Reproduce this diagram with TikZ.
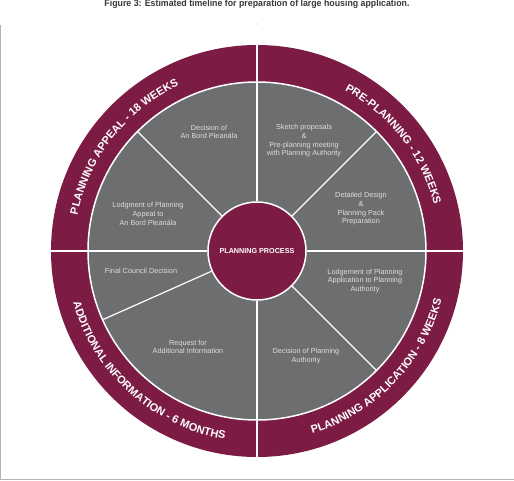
\documentclass[tikz,border=0pt]{standalone}
\usepackage{fontspec}
\setmainfont{Liberation Sans}
\usetikzlibrary{decorations.text}
\definecolor{wine}{HTML}{7C1C45}
\definecolor{slab}{HTML}{6C6E70}
\definecolor{pale}{HTML}{DEDEDE}
\definecolor{frame}{HTML}{B4B4B4}

\begin{document}
\begin{tikzpicture}[x=1pt,y=1pt,
  stagetext/.style={font=\fontsize{7.3}{8.7}\selectfont, text=pale, align=center},
  divider/.style={white, line width=1.2pt},
  ringtext/.style={decorate, decoration={text along path, text align=center,
    text={|\fontsize{11}{11}\selectfont\bfseries\color{white}|#1}}}]
\useasboundingbox (-257,-229) rectangle (257,251);
\draw[frame, line width=1pt] (-256.5,226) -- (-256.5,-228) -- (257,-228);
\fill[frame] (0,227) circle (0.7);
\node[anchor=base, text=black!78] (title) at (0,244)
  {\resizebox{305pt}{6.8pt}{\bfseries Figure 3: Estimated timeline for preparation of large housing application.}};
\fill[wine] (0,0) circle (206);
\filldraw[fill=slab, draw=white, line width=1.5pt] (0,0) circle (169);
\node[circle, fill=wine, draw=white, line width=1.5pt, minimum size=98pt, inner sep=0pt,
  font=\fontsize{7.2}{7.2}\selectfont\bfseries, text=white] (hub) at (0,0) {PLANNING PROCESS};
\draw[divider] (hub.north) -- (90:206);
\draw[divider] (hub.south) -- (-90:206);
\draw[divider] (hub.east) -- (0:206);
\draw[divider] (hub.west) -- (180:206);
\draw[divider] (hub.135) -- (135:169);
\draw[divider] (hub.45) -- (45:169);
\draw[divider] (hub.-45) -- (-45:169);
\draw[divider] (hub.204) -- (204:169);
\node[stagetext] (bordDecision) at (-48,119) {Decision of\\An Bord Plean\'ala};
\node[stagetext] (appealLodged) at (-109,37) {Lodgment of Planning\\Appeal to\\An Bord Plean\'ala};
\node[stagetext] (sketch) at (47,110) {Sketch proposals\\\&\\Pre-planning meeting\\with Planning Authority};
\node[stagetext] (design) at (104,42) {Detailed Design\\\&\\Planning Pack\\Preparation};
\node[stagetext] (lodgement) at (108,-30) {Lodgement of Planning\\Application to Planning\\Authority};
\node[stagetext] (authDecision) at (49,-105) {Decision of Planning\\Authority};
\node[stagetext] (infoRequest) at (-69,-96) {Request for\\Additional Information};
\node[stagetext] (councilDecision) at (-116,-20) {Final Council Decision};
\path[ringtext={PLANNING APPEAL - 18 WEEKS}] (187:183) arc[start angle=187, end angle=97, radius=183];
\path[ringtext={PRE-PLANNING - 12 WEEKS}] (83:183) arc[start angle=83, end angle=-7, radius=183];
\path[ringtext={PLANNING APPLICATION - 8 WEEKS}] (-89:191) arc[start angle=-89, end angle=1, radius=191];
\path[ringtext={ADDITIONAL INFORMATION - 6 MONTHS}] (183:191) arc[start angle=183, end angle=273, radius=191];
\end{tikzpicture}
\end{document}
